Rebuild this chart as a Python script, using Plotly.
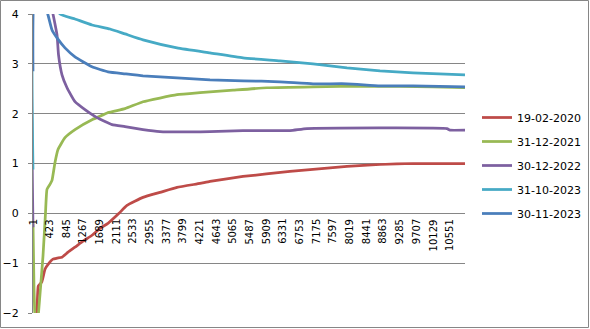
import plotly.graph_objects as go

# Category tick labels on the x axis
tick_vals = list(range(1, 10552, 422))
tick_text = [str(v) for v in tick_vals]

series_names = ["19-02-2020", "31-12-2021", "30-12-2022", "31-10-2023", "30-11-2023"]
series_colors = ["#BE4B48", "#98B954", "#7D60A0", "#46AAC5", "#4A7EBB"]

# 19-02-2020
red_x = [1, 77, 102, 135, 221, 262, 305, 388, 507, 609, 735, 887, 1064, 1267, 1495,
         1697, 1900, 2178, 2380, 2786, 3216, 3647, 4229, 4482, 5317, 6507, 7090,
         7950, 8786, 9621, 10938]
red_y = [-5.0, -2.6, -2.0, -1.46, -1.38, -1.26, -1.12, -1.02, -0.92, -0.90, -0.88,
         -0.78, -0.68, -0.56, -0.44, -0.30, -0.20, 0.0, 0.16, 0.32, 0.42, 0.52, 0.60,
         0.64, 0.74, 0.84, 0.88, 0.94, 0.98, 1.0, 1.0]

# 31-12-2021
green_x = [1, 26, 77, 140, 254, 317, 355, 431, 482, 558, 634, 811, 1064, 1495, 1621,
           1900, 2330, 2786, 3647, 4229, 5065, 5925, 7090, 8457, 10128, 10938]
green_y = [-0.2, -1.5, -2.6, -2.0, -0.86, 0.0, 0.48, 0.58, 0.66, 1.02, 1.28, 1.52,
           1.68, 1.88, 1.92, 2.02, 2.10, 2.24, 2.38, 2.42, 2.47, 2.52, 2.54, 2.55,
           2.54, 2.52]

# 30-12-2022
purple_x = [1, 26, 305, 507, 609, 647, 735, 862, 1064, 1317, 1621, 2001, 2330, 2786,
            3216, 4482, 5317, 6507, 6937, 10482, 10558, 10938]
purple_y = [-0.28, 4.5, 4.8, 4.0, 3.58, 3.18, 2.78, 2.52, 2.24, 2.08, 1.92, 1.78,
            1.74, 1.68, 1.64, 1.64, 1.66, 1.66, 1.70, 1.70, 1.67, 1.67]

# 31-10-2023
cyan_x = [1, 26, 305, 685, 1064, 1495, 1950, 2330, 2786, 3647, 4482, 5317, 6254,
          7090, 7950, 8786, 9621, 10938]
cyan_y = [0.88, 4.3, 4.6, 4.0, 3.9, 3.78, 3.70, 3.60, 3.48, 3.32, 3.22, 3.12, 3.06,
          3.0, 2.92, 2.86, 2.82, 2.78]

# 30-11-2023
blue_x = [1, 26, 178, 381, 482, 609, 811, 1064, 1495, 1900, 2330, 2786, 3647, 4482,
          5317, 6254, 7090, 7950, 8786, 9621, 10938]
blue_y = [2.85, 4.3, 4.5, 3.98, 3.68, 3.52, 3.32, 3.14, 2.94, 2.84, 2.80, 2.76, 2.72,
          2.68, 2.66, 2.64, 2.60, 2.60, 2.56, 2.56, 2.54]

all_x = [red_x, green_x, purple_x, cyan_x, blue_x]
all_y = [red_y, green_y, purple_y, cyan_y, blue_y]

FONT = "DejaVu Sans"
GRID = "#868686"

fig = go.Figure()
for name, color, xs, ys in zip(series_names, series_colors, all_x, all_y):
    fig.add_trace(go.Scatter(
        x=xs, y=ys, mode="lines", name=name, legendgroup=name,
        line=dict(color=color, width=2.75, shape="spline", smoothing=0.4),
        hoverinfo="skip",
    ))

W, H = 590, 329
L, R, T, B = 33, 125, 14, 16
pw = W - L - R
ph = H - T - B

fig.update_layout(
    width=W, height=H, autosize=False,
    margin=dict(l=L, r=R, t=T, b=B, pad=0, autoexpand=False),
    paper_bgcolor="white", plot_bgcolor="white",
    font=dict(family=FONT, size=10, color="#000000"),
    showlegend=True,
    legend=dict(
        x=(477 - L) / pw, y=(H - B - 103) / ph, xanchor="left", yanchor="top",
        font=dict(family=FONT, size=11, color="#000000"),
        bgcolor="rgba(0,0,0,0)", borderwidth=0,
        tracegroupgap=5, itemwidth=30,
    ),
    xaxis=dict(
        range=[1, 10938], automargin=False,
        showgrid=False, zeroline=False, showline=False,
        ticks="", showticklabels=False,
    ),
    yaxis=dict(
        range=[-2, 4], tickmode="array", tickvals=[-2, -1, 0, 1, 2, 3, 4],
        automargin=False,
        showgrid=True, gridcolor=GRID, gridwidth=1,
        zeroline=True, zerolinecolor=GRID, zerolinewidth=1,
        showline=True, linecolor=GRID, linewidth=1,
        ticks="outside", ticklen=4, tickcolor=GRID,
        tickfont=dict(family=FONT, size=11, color="#000000"),
        ticklabelstandoff=7,
    ),
)

# Category labels written under the zero line
for v, t in zip(tick_vals, tick_text):
    fig.add_annotation(x=v, y=0, xref="x", yref="y", text=t, showarrow=False,
                       textangle=-90, xanchor="center", yanchor="top", yshift=-4,
                       font=dict(family=FONT, size=10, color="#000000"))

# Chart area border
fig.add_shape(type="rect", xref="paper", yref="paper",
              x0=(0.5 - L) / pw, x1=(W - 1.5 - L) / pw,
              y0=(H - B - (H - 1.5)) / ph, y1=(H - B - 0.5) / ph,
              line=dict(color=GRID, width=1), fillcolor="rgba(0,0,0,0)", layer="above")

fig.write_html("out.html")
